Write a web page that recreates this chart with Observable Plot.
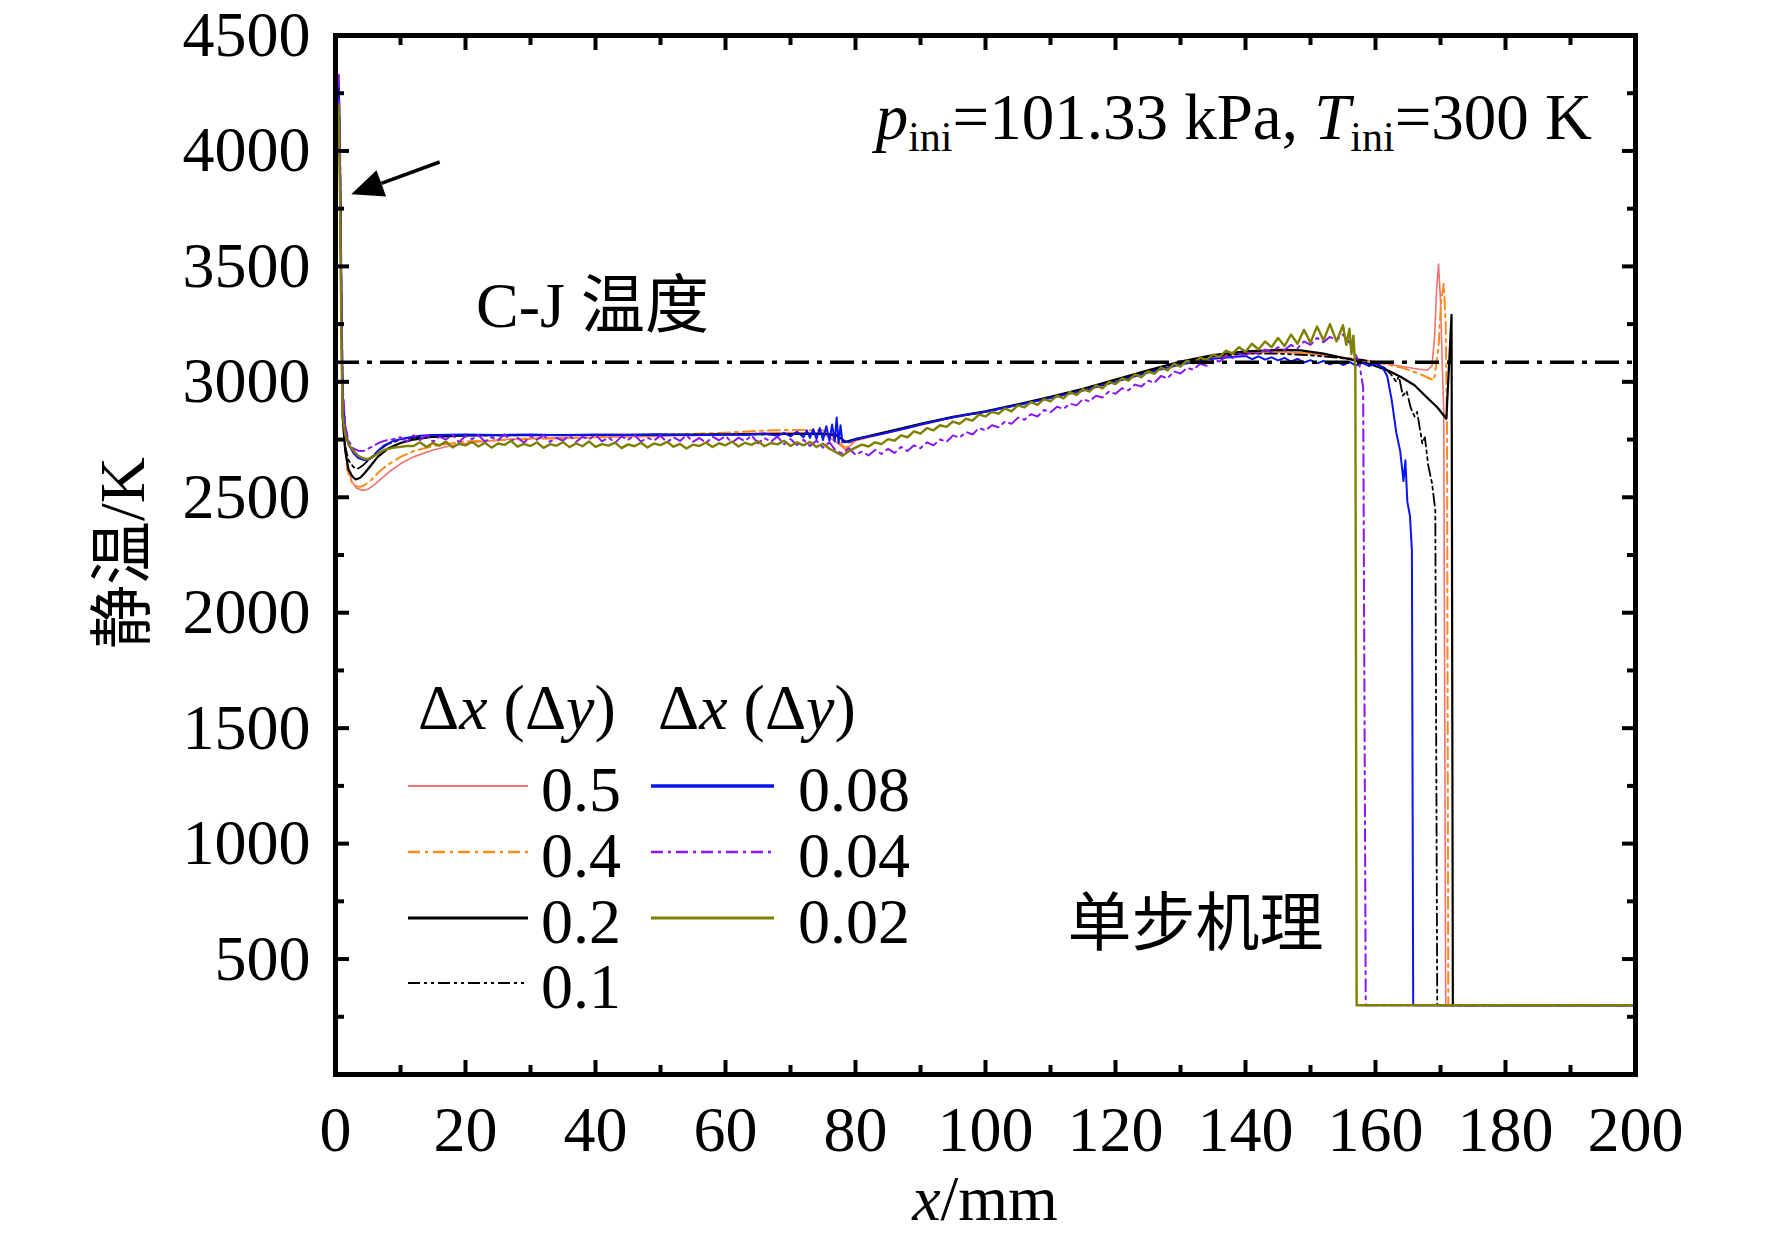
<!DOCTYPE html>
<html><head><meta charset="utf-8">
<script src="https://cdn.jsdelivr.net/npm/d3@7"></script>
<script src="https://cdn.jsdelivr.net/npm/@observablehq/plot@0.6"></script>
<style>html,body{margin:0;padding:0;background:#fff}#chart svg{display:block}</style>
</head><body><div id="chart"></div>
<script>
// ---- tick values ----
const xMajorTicks = [0,20,40,60,80,100,120,140,160,180,200];
const xMinorTicks = [10,30,50,70,90,110,130,150,170,190];
const yMajorTicks = [500,1000,1500,2000,2500,3000,3500,4000,4500];
const yMinorTicks = [250,750,1250,1750,2250,2750,3250,3750,4250];
const cjTemperature = 3085;

// ---- series: [x (mm), static temperature (K)] ----
const s05 = [[0.5,4250],[0.7,3850],[0.9,3250],[1.2,2800],[1.8,2640],[2.5,2570],[3.2,2540],[4.1,2530],[5,2535],[6,2555],[7,2580],[8.5,2615],[10,2645],[12,2675],[15,2705],[18,2725],[22,2740],[26,2750],[30,2755],[40,2760],[50,2765],[60,2775],[70,2780],[75,2775],[77,2740],[78.5,2705],[80,2745],[85,2780],[90,2812],[95,2845],[100,2870],[105,2900],[110,2930],[115,2962],[120,3000],[125,3040],[130,3080],[135,3108],[140,3125],[145,3130],[150,3122],[155,3105],[158,3095],[160,3088],[163,3072],[166,3058],[168,3050],[168.7,3070],[169.1,3200],[169.4,3400],[169.7,3510],[170,3350],[170.3,3050],[170.5,2870],[170.8,300],[200,300]];
const s04 = [[0.5,4270],[0.7,3880],[0.9,3280],[1.2,2800],[1.8,2620],[2.5,2565],[3.2,2548],[3.8,2545],[4.6,2555],[5.5,2575],[6.5,2605],[8,2640],[10,2675],[12,2700],[15,2722],[20,2742],[30,2752],[40,2760],[50,2768],[60,2780],[65,2788],[70,2792],[75,2790],[77,2750],[78.5,2712],[80,2748],[85,2782],[90,2814],[95,2846],[100,2872],[105,2902],[110,2932],[115,2964],[120,3002],[125,3042],[130,3080],[135,3110],[140,3126],[145,3132],[150,3122],[155,3105],[160,3085],[164,3062],[167,3032],[169,3006],[169.7,3150],[170.1,3350],[170.5,3425],[170.8,3250],[171,2800],[171.2,300],[200,300]];
const s02 = [[0.5,4280],[0.7,3900],[0.9,3300],[1.1,2850],[1.5,2700],[2,2620],[2.6,2590],[3.1,2577],[3.8,2585],[4.5,2605],[5.5,2640],[6.5,2675],[8,2710],[10,2735],[12,2750],[15,2762],[20,2768],[40,2770],[60,2772],[70,2774],[75,2776],[77,2770],[78.5,2740],[80,2752],[85,2785],[90,2818],[95,2848],[100,2872],[105,2903],[110,2935],[115,2970],[120,3010],[125,3050],[130,3088],[135,3116],[140,3132],[145,3138],[148.5,3136],[152,3122],[156,3098],[159,3078],[162,3048],[164,3020],[166,2985],[168,2930],[169.5,2890],[170.9,2840],[171.7,3290],[171.9,300],[200,300]];
const s01 = [[0.5,4290],[0.7,3920],[0.9,3320],[1.1,2860],[1.5,2720],[2,2660],[2.8,2630],[3.5,2625],[4.3,2640],[5.2,2665],[6.5,2700],[8,2730],[10,2750],[13,2762],[20,2768],[40,2770],[60,2772],[75,2774],[77,2768],[78.5,2735],[80,2750],[85,2783],[90,2816],[95,2847],[100,2870],[105,2900],[110,2932],[115,2966],[120,3005],[125,3045],[130,3082],[135,3110],[140,3122],[145,3122],[150,3115],[155,3102],[158,3095],[160,3082],[161.3,3062],[162.3,3036],[163.2,3000],[163.6,3025],[164.2,2940],[164.8,2960],[165.4,2889],[166,2850],[166.4,2870],[167.2,2733],[167.6,2760],[168.1,2640],[168.7,2560],[169.2,2443],[169.5,300],[200,300]];
const s008 = [[0.5,4300],[0.7,3950],[0.9,3400],[1.1,2950],[1.5,2800],[2,2730],[2.8,2690],[3.5,2670],[4.3,2662],[4.9,2660],[5.6,2672],[6.5,2700],[7.5,2725],[9,2745],[11,2758],[13,2766],[15,2770],[20,2772],[25,2770],[30,2772],[35,2769],[40,2771],[45,2770],[50,2772],[55,2769],[60,2772],[63,2770],[66,2776],[68,2766],[69,2779],[70,2764],[71,2784],[72,2760],[72.5,2790],[73,2757],[73.5,2795],[74,2752],[74.5,2800],[75,2748],[75.5,2808],[76,2745],[76.4,2815],[76.8,2742],[77.1,2845],[77.4,2735],[77.7,2812],[78,2738],[78.5,2742],[79,2738],[80,2752],[82,2763],[84,2774],[86,2787],[88,2800],[90,2815],[93,2835],[96,2852],[100,2870],[105,2900],[110,2930],[115,2962],[120,3000],[125,3040],[130,3075],[135,3100],[138,3108],[140,3112],[141,3098],[142,3110],[143,3096],[144,3106],[145,3093],[146,3104],[147,3088],[148,3099],[149,3084],[150,3094],[151,3080],[152,3091],[153,3076],[154,3088],[155,3073],[156,3086],[157,3070],[158,3082],[159,3068],[160,3078],[161,3066],[161.8,3025],[162.5,2920],[163.2,2780],[163.8,2700],[164.3,2570],[164.6,2660],[164.9,2480],[165.3,2420],[165.6,2270],[165.8,300],[200,300]];
const s004 = [[0.5,4330],[0.7,4000],[0.9,3450],[1.1,2980],[1.5,2810],[2,2745],[2.8,2710],[3.5,2702],[4.3,2700],[5,2710],[6,2725],[7,2740],[8,2748],[9,2752],[10,2760],[11,2742],[12,2768],[13,2748],[14,2770],[15,2740],[16,2762],[17,2750],[18,2771],[19,2738],[20,2765],[21,2752],[22,2769],[23,2741],[24,2760],[25,2747],[26,2772],[27,2744],[28,2758],[29,2736],[30,2766],[31,2749],[32,2770],[33,2740],[34,2757],[35,2745],[36,2768],[37,2739],[38,2762],[39,2750],[40,2771],[41,2742],[42,2760],[43,2735],[44,2764],[45,2748],[46,2770],[47,2741],[48,2758],[49,2746],[50,2767],[51,2738],[52,2760],[53,2744],[54,2769],[55,2740],[56,2757],[57,2735],[58,2762],[59,2747],[60,2765],[61,2737],[62,2758],[63,2743],[64,2768],[65,2734],[66,2756],[67,2741],[68,2763],[69,2730],[70,2752],[71,2726],[72,2749],[73,2722],[74,2745],[75,2715],[76,2738],[77,2700],[78,2690],[79,2712],[80,2684],[81,2698],[82,2681],[83,2705],[84,2688],[85,2710],[86,2692],[87,2718],[88,2700],[89,2725],[90,2712],[91,2738],[92,2725],[93,2750],[94,2740],[95,2768],[96,2758],[97,2783],[98,2772],[99,2800],[100,2790],[101,2812],[102,2803],[103,2828],[104,2818],[105,2845],[106,2836],[107,2860],[108,2850],[109,2878],[110,2868],[111,2892],[112,2883],[113,2905],[114,2898],[115,2925],[116,2915],[117,2940],[118,2932],[119,2958],[120,2948],[121,2972],[122,2963],[123,2988],[124,2980],[125,3005],[126,2996],[127,3025],[128,3015],[129,3045],[130,3036],[131,3060],[132,3053],[133,3078],[134,3070],[135,3095],[136,3088],[137,3110],[138,3103],[139,3122],[140,3115],[141,3130],[142,3120],[143,3140],[144,3128],[145,3150],[146,3138],[147,3160],[148,3145],[149,3175],[150,3160],[151,3190],[152,3172],[153,3195],[154,3180],[155,3205],[156,3170],[156.7,3136],[157.5,3080],[158.1,2977],[158.5,300],[200,300]];
const s002 = [[0.5,4200],[0.7,3800],[0.9,3200],[1.1,2850],[1.5,2770],[2,2730],[2.8,2700],[3.5,2680],[4.3,2668],[4.9,2665],[5.6,2672],[6.5,2690],[7.5,2705],[9,2715],[11,2722],[12,2722],[13,2738],[14,2718],[15,2735],[16,2724],[17,2741],[18,2716],[19,2732],[20,2725],[21,2740],[22,2720],[23,2736],[24,2715],[25,2733],[26,2727],[27,2744],[28,2719],[29,2731],[30,2722],[31,2738],[32,2714],[33,2730],[34,2723],[35,2739],[36,2717],[37,2734],[38,2721],[39,2742],[40,2718],[41,2730],[42,2724],[43,2737],[44,2713],[45,2729],[46,2721],[47,2736],[48,2716],[49,2733],[50,2726],[51,2740],[52,2719],[53,2731],[54,2711],[55,2728],[56,2722],[57,2737],[58,2718],[59,2734],[60,2725],[61,2741],[62,2720],[63,2736],[64,2727],[65,2743],[66,2721],[67,2735],[68,2729],[69,2745],[70,2722],[71,2738],[72,2725],[73,2740],[74,2718],[75,2732],[76,2710],[77,2695],[78,2680],[79,2700],[80,2715],[81,2728],[82,2720],[83,2738],[84,2730],[85,2752],[86,2745],[87,2768],[88,2760],[89,2785],[90,2776],[91,2800],[92,2790],[93,2812],[94,2805],[95,2828],[96,2818],[97,2840],[98,2832],[99,2858],[100,2850],[101,2870],[102,2862],[103,2885],[104,2872],[105,2898],[106,2890],[107,2912],[108,2900],[109,2925],[110,2915],[111,2940],[112,2928],[113,2955],[114,2943],[115,2968],[116,2958],[117,2985],[118,2972],[119,3000],[120,2990],[121,3015],[122,3005],[123,3032],[124,3020],[125,3045],[126,3035],[127,3062],[128,3050],[129,3078],[130,3066],[131,3092],[132,3080],[133,3105],[134,3095],[135,3118],[136,3108],[137,3135],[138,3122],[139,3150],[140,3130],[141,3165],[142,3140],[143,3175],[144,3150],[145,3190],[146,3155],[147,3205],[148,3165],[149,3225],[150,3170],[151,3240],[152,3180],[153,3250],[154,3175],[155,3245],[155.5,3160],[156,3230],[156.3,3120],[156.6,3200],[156.9,3060],[157.1,300],[200,300]];

const seriesNames = ["0.5","0.4","0.2","0.1","0.08","0.04","0.02"];
const seriesData = [s05, s04, s02, s01, s008, s004, s002];
const seriesColors = ["#f07272","#ff8a1e","#000000","#000000","#0a14f5","#8a16f2","#7f7f00"];
const seriesDash = [null,"12,5,3,5",null,"12,4,3,4,3,4",null,"12,5,3,5",null];
const seriesWidth = [1.6,2,2.2,1.8,2,2,2.4];
const legendWidth = [1.8,2.6,3,2.2,3.4,2.6,3.2];

// ---- layout ----
const W = 1772, H = 1244, mL = 335, mR = 137, mT = 35, mB = 170;
const FONT = "'Liberation Serif','Times New Roman','Noto Sans CJK SC',serif";

const lineMarks = seriesData.map((s, i) => Plot.line(s, {
  x: d => d[0], y: d => d[1], stroke: seriesColors[i], strokeWidth: seriesWidth[i],
  strokeDasharray: seriesDash[i], strokeLinejoin: "round"
}));

const tickOpts = {tickFormat: () => "", label: null, strokeWidth: 4};
const chart = Plot.plot({
  width: W, height: H, marginLeft: mL, marginRight: mR, marginTop: mT, marginBottom: mB,
  x: {domain: [0, 200]}, y: {domain: [0, 4500]},
  style: {fontFamily: FONT, background: "#fff", color: "#000", overflow: "visible"},
  marks: [
    ...lineMarks,
    Plot.ruleY([cjTemperature], {stroke: "#000", strokeWidth: 3.5, strokeDasharray: "24,8,5,8"}),
    Plot.axisX(xMajorTicks, {anchor: "bottom", tickSize: 0, tickPadding: 31, fontSize: 64, label: null, tickFormat: d => String(d)}),
    Plot.axisY(yMajorTicks, {anchor: "left", tickSize: 0, tickPadding: 25, fontSize: 64, label: null, tickFormat: d => String(d)}),
    Plot.axisX(xMajorTicks, {anchor: "bottom", tickSize: -14, ...tickOpts}),
    Plot.axisX(xMinorTicks, {anchor: "bottom", tickSize: -9, ...tickOpts}),
    Plot.axisX(xMajorTicks, {anchor: "top", tickSize: -14, ...tickOpts}),
    Plot.axisX(xMinorTicks, {anchor: "top", tickSize: -9, ...tickOpts}),
    Plot.axisY(yMajorTicks, {anchor: "left", tickSize: -14, ...tickOpts}),
    Plot.axisY(yMinorTicks, {anchor: "left", tickSize: -9, ...tickOpts}),
    Plot.axisY(yMajorTicks, {anchor: "right", tickSize: -14, ...tickOpts}),
    Plot.axisY(yMinorTicks, {anchor: "right", tickSize: -9, ...tickOpts}),
    Plot.frame({stroke: "#000", strokeWidth: 5})
  ]
});
document.getElementById("chart").appendChild(chart);

// ---- annotations, legend, axis titles ----
const svg = d3.select(chart);
const sx = chart.scale("x"), sy = chart.scale("y");
const g = svg.append("g").attr("font-family", FONT).attr("fill", "#000");

function addText(x, y, parts, opts = {}) {
  const t = g.append("text").attr("x", x).attr("y", y)
    .attr("font-size", opts.size || 64).attr("text-anchor", opts.anchor || "start");
  if (opts.transform) t.attr("transform", opts.transform);
  if (opts.baseline) t.attr("dominant-baseline", opts.baseline);
  for (const p of parts) {
    const ts = t.append("tspan").text(p.t);
    if (p.i) ts.attr("font-style", "italic");
    if (p.s) ts.attr("font-size", p.s);
    if (p.dy) ts.attr("dy", p.dy);
  }
  return t;
}

// axis titles
addText(0, 0, [{t: "静温/K"}], {anchor: "middle", baseline: "central", transform: "translate(122,553) rotate(-90)"});
addText((mL + W - mR) / 2, 1220, [{t: "x", i: true}, {t: "/mm"}], {anchor: "middle"});

// conditions
addText(1592, 139, [
  {t: "p", i: true}, {t: "ini", s: 42, dy: 12}, {t: "=101.33 kPa, ", dy: -12},
  {t: "T", i: true}, {t: "ini", s: 42, dy: 12}, {t: "=300 K", dy: -12}
], {anchor: "end", size: 65});

addText(sx.apply(21.7), 327, [{t: "C-J 温度"}]);
addText(sx.apply(112.7), 945, [{t: "单步机理"}]);

// arrow pointing at the initial spike
const ax1 = sx.apply(16.1), ay1 = sy.apply(3950), ax2 = sx.apply(2.5), ay2 = sy.apply(3810);
const ang = Math.atan2(ay2 - ay1, ax2 - ax1), hl = 32, hw = 14;
const bx = ax2 - hl * Math.cos(ang), by = ay2 - hl * Math.sin(ang);
g.append("line").attr("x1", ax1).attr("y1", ay1).attr("x2", bx).attr("y2", by)
  .attr("stroke", "#000").attr("stroke-width", 3.5);
g.append("path").attr("d",
  `M${ax2},${ay2} L${bx + hw * Math.sin(ang)},${by - hw * Math.cos(ang)} L${bx - hw * Math.sin(ang)},${by + hw * Math.cos(ang)} Z`)
  .attr("fill", "#000");

// legend
const legHeader = [{t: "Δ"}, {t: "x", i: true}, {t: " (Δ"}, {t: "y", i: true}, {t: ")"}];
addText(418, 729, legHeader);
addText(658, 729, legHeader);
const rowY = [786, 852, 918, 983];
seriesNames.forEach((name, i) => {
  const col = i < 4 ? 0 : 1, row = i < 4 ? i : i - 4;
  const x1 = col === 0 ? 408 : 651, x2 = col === 0 ? 528 : 774, lx = col === 0 ? 541 : 798;
  const y = rowY[row];
  const ln = g.append("line").attr("x1", x1).attr("x2", x2).attr("y1", y).attr("y2", y)
    .attr("stroke", seriesColors[i]).attr("stroke-width", legendWidth[i]);
  if (seriesDash[i]) ln.attr("stroke-dasharray", seriesDash[i]);
  addText(lx, y + 25, [{t: name}]);
});
</script>
</body></html>
